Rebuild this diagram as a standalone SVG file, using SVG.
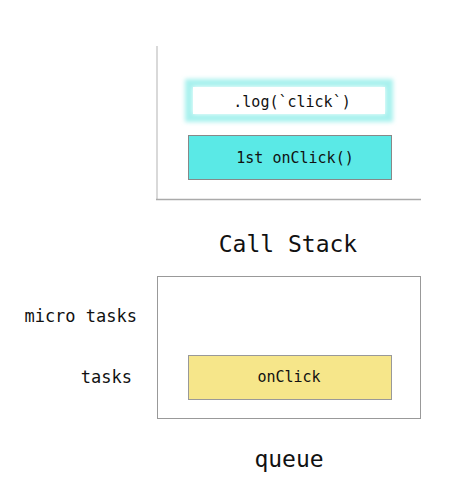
<svg xmlns="http://www.w3.org/2000/svg" width="470" height="491" viewBox="0 0 470 491">
<style>
text{font-family:"DejaVu Sans Mono","Liberation Mono",monospace;fill:#111}
.box{font-size:15px;text-anchor:middle}
.title{font-size:23px;text-anchor:middle}
.lbl{font-size:17px;text-anchor:end}
</style>
<defs>
<filter id="glow" x="-20%" y="-50%" width="140%" height="200%"><feGaussianBlur stdDeviation="2.2"/></filter>
</defs>
<rect width="470" height="491" fill="#fff"/>
<g id="callstack">
<line x1="157" y1="46" x2="157" y2="200" stroke="#ccc" stroke-width="1.5"/>
<line x1="156" y1="199.5" x2="421" y2="199.5" stroke="#aaa" stroke-width="1.5"/>
<text class="title" x="288" y="252">Call Stack</text>
</g>
<g id="log">
<rect x="189" y="83" width="200" height="35" fill="none" stroke="#a8f1ee" stroke-width="8" filter="url(#glow)"/>
<rect x="193" y="87" width="192" height="27" fill="#fff"/>
<text class="box" x="292" y="107">.log(`click`)</text>
</g>
<g id="onclick1">
<rect x="188.5" y="135.5" width="203" height="44" fill="#5ae9e6" stroke="#888"/>
<text class="box" x="295" y="163">1st onClick()</text>
</g>
<g id="queue">
<rect x="157.5" y="276.5" width="263" height="142" fill="none" stroke="#999"/>
<text class="title" x="289" y="467">queue</text>
<text class="lbl" x="137" y="322">micro tasks</text>
<text class="lbl" x="132" y="383">tasks</text>
</g>
<g id="onclick">
<rect x="188.5" y="355.5" width="203" height="44" fill="#f6e68a" stroke="#999"/>
<text class="box" x="289" y="382">onClick</text>
</g>
<g id="connectors"></g>
</svg>
